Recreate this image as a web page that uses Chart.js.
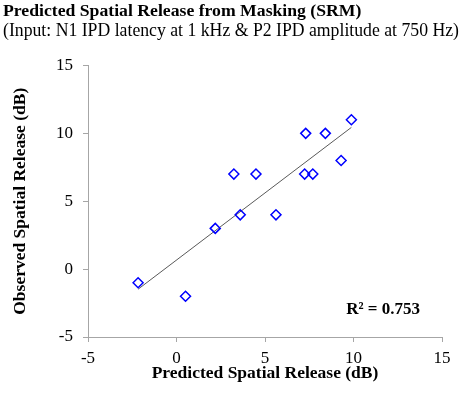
<!DOCTYPE html>
<html>
<head>
<meta charset="utf-8">
<script src="https://cdn.jsdelivr.net/npm/chart.js@4/dist/chart.umd.min.js"></script>
<style>
  html, body { margin: 0; padding: 0; background: #fff; }
  #wrap { width: 459px; height: 396px; }
</style>
</head>
<body>
<div id="wrap"><canvas id="myChart"></canvas></div>
<script>
// values
var predicted = [-2.17, 0.51, 2.19, 3.24, 3.6, 4.49, 5.62, 7.3, 7.24, 7.7, 8.41, 9.3, 9.88];
var observed  = [-1, -2, 3, 7, 4, 7, 4, 10, 7, 7, 10, 8, 11];
// linear trendline end points
var trendX = [-2.17, 9.88];
var trendY = [-1.48, 10.44];
var tickValues = [-5, 0, 5, 10, 15];

var serif = "'Liberation Serif', 'Times New Roman', serif";

var points = predicted.map(function (x, i) { return { x: x, y: observed[i] }; });
var trend = trendX.map(function (x, i) { return { x: x, y: trendY[i] }; });

// R squared label
var r2Label = {
  id: 'r2Label',
  afterDraw: function (chart) {
    var ctx = chart.ctx;
    var area = chart.chartArea;
    ctx.save();
    ctx.font = "bold 17px " + serif;
    ctx.fillStyle = '#000';
    ctx.textAlign = 'right';
    ctx.textBaseline = 'middle';
    ctx.fillText('R\u00B2 = 0.753', area.right - 22, 310);
    ctx.restore();
  }
};

const config = {
  type: 'scatter',
  data: {
    datasets: [
      {
        label: 'Observed',
        data: points,
        pointStyle: 'rectRot',
        pointRadius: 5,
        pointBorderWidth: 1.5,
        borderColor: '#0000ff',
        backgroundColor: 'rgba(255,255,255,0)',
        order: 1
      },
      {
        label: 'Trend',
        type: 'line',
        data: trend,
        borderColor: '#595959',
        borderWidth: 1,
        pointRadius: 0,
        fill: false,
        order: 2
      }
    ]
  },
  plugins: [r2Label],
  options: {
    responsive: false,
    animation: false,
    layout: { padding: { left: 3, right: 0, top: 0, bottom: 0 } },
    plugins: {
      legend: { display: false },
      tooltip: { enabled: false },
      title: {
        display: true,
        text: 'Predicted Spatial Release from Masking (SRM)',
        align: 'start',
        color: '#000',
        font: { family: serif, size: 17.7, weight: 'bold', lineHeight: 1.1 },
        padding: { top: 2, bottom: 0 }
      },
      subtitle: {
        display: true,
        text: '(Input: N1 IPD latency at 1 kHz & P2 IPD amplitude at 750 Hz)',
        align: 'start',
        color: '#000',
        font: { family: serif, size: 18.2, lineHeight: 1.1 },
        padding: { top: 0, bottom: 24 }
      }
    },
    scales: {
      x: {
        type: 'linear',
        min: -5,
        max: 15,
        afterBuildTicks: function (axis) {
          axis.ticks = tickValues.map(function (v) { return { value: v }; });
        },
        ticks: { color: '#000', font: { family: serif, size: 17 }, padding: 6 },
        grid: { drawOnChartArea: false, drawTicks: true, tickLength: 5, color: '#a6a6a6' },
        border: { color: '#a6a6a6' },
        title: {
          display: true,
          text: 'Predicted Spatial Release (dB)',
          color: '#000',
          font: { family: serif, size: 17.5, weight: 'bold' },
          padding: { top: 0, bottom: 12 }
        },
        afterFit: function (axis) { axis.height = 59; }
      },
      y: {
        type: 'linear',
        min: -5,
        max: 15,
        afterBuildTicks: function (axis) {
          axis.ticks = tickValues.map(function (v) { return { value: v }; });
        },
        ticks: { color: '#000', font: { family: serif, size: 17 }, padding: 10 },
        grid: { drawOnChartArea: false, drawTicks: true, tickLength: 5, color: '#a6a6a6' },
        border: { color: '#a6a6a6' },
        title: {
          display: true,
          text: 'Observed Spatial Release (dB)',
          color: '#000',
          font: { family: serif, size: 17.5, weight: 'bold' },
          padding: { top: 7, bottom: 0 }
        },
        afterFit: function (axis) { axis.width = 85; }
      },
      // empty right-hand axis, only keeps space on the right
      yRight: {
        type: 'linear',
        position: 'right',
        min: -5,
        max: 15,
        ticks: { display: false },
        grid: { display: false },
        border: { display: false },
        afterFit: function (axis) { axis.width = 17; }
      }
    }
  }
};

var canvas = document.getElementById('myChart');
canvas.width = 459;
canvas.height = 396;
const myChart = new Chart(canvas, config);
</script>
</body>
</html>
